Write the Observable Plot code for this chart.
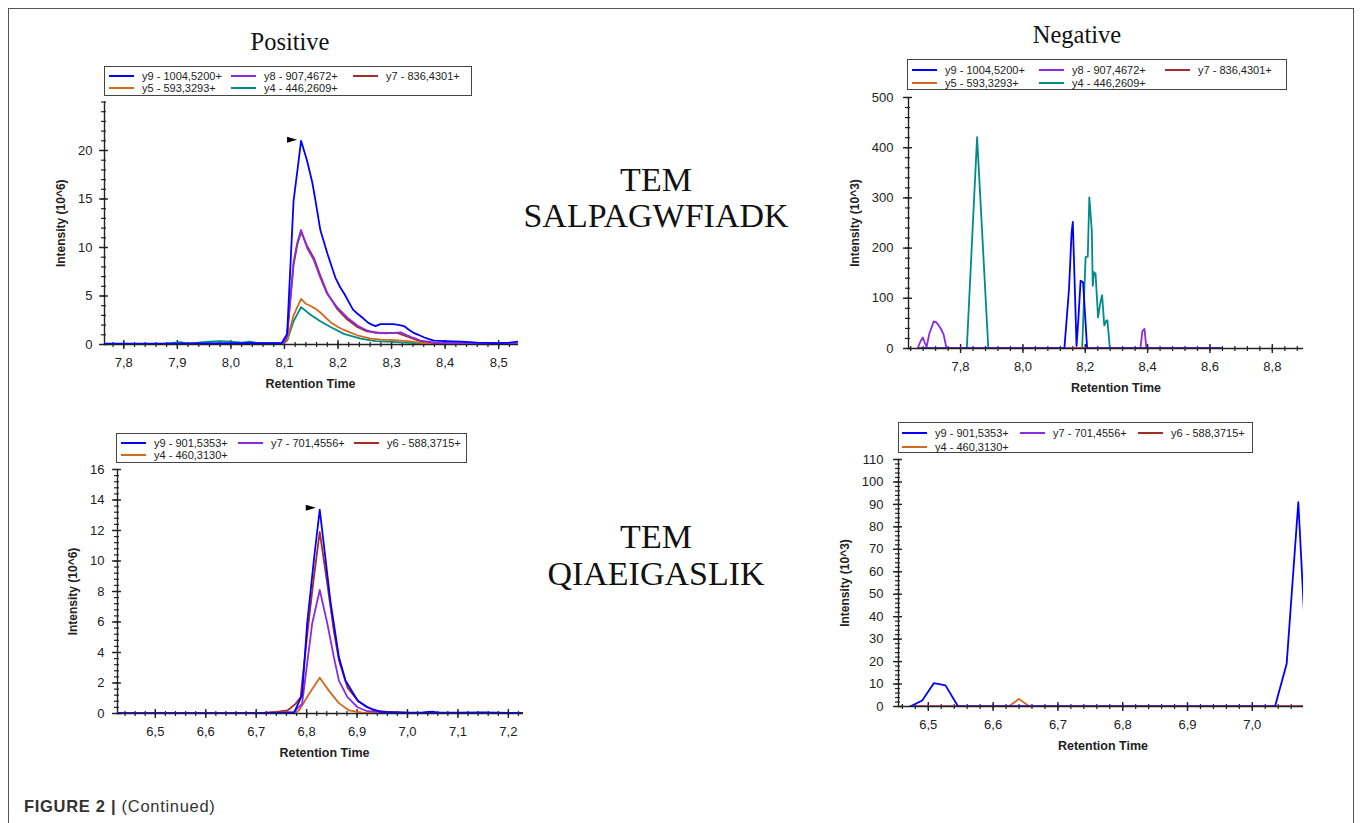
<!DOCTYPE html>
<html><head><meta charset="utf-8">
<script src="https://cdn.jsdelivr.net/npm/d3@7"></script>
<script src="https://cdn.jsdelivr.net/npm/@observablehq/plot@0.6"></script>
<style>
html,body{margin:0;padding:0;}
body{width:1362px;height:823px;overflow:hidden;background:#fff;font-family:"Liberation Sans",Arial,sans-serif;position:relative}
.frame{position:absolute;left:8px;top:8px;width:1346px;height:900px;border:1px solid #555;box-sizing:border-box}
.title{position:absolute;font-family:"Liberation Serif","Times New Roman",serif;color:#111;transform:translate(-50%,-50%);white-space:nowrap;text-align:center}
.legend{position:absolute;border:1px solid #444;background:#fff;box-sizing:border-box;z-index:5}
.li{position:absolute;font-size:11px;color:#222;white-space:nowrap;line-height:12px;transform:translateY(-50%)}
.sw{position:absolute;height:2px;transform:translateY(-50%)}
.panel{position:absolute}
.caption{position:absolute;left:24px;top:797px;font-size:16.5px;letter-spacing:0.7px;color:#333;white-space:nowrap}
</style></head><body>
<div class="frame"></div>
<div id="root"></div>
<div class="caption"><b>FIGURE 2 |</b> (Continued)</div>
<script>
// ---------------- DATA ----------------
// Panel 1: TEM SALPAGWFIADK, Positive (Intensity 10^6)
const P1_LABELS = ["y9 - 1004,5200+", "y8 - 907,4672+", "y7 - 836,4301+", "y5 - 593,3293+", "y4 - 446,2609+"];
const P1_COLORS = ["#0000ff", "#8a2be2", "#a52a2a", "#d2691e", "#008b8b"];
const P1_Y9 = [[7.764,0.1],[7.85,0.1],[7.95,0.12],[8.05,0.15],[8.095,0.15],[8.105,1.1],[8.117,14.8],[8.125,18.3],[8.131,21.0],[8.142,19.0],[8.152,16.7],[8.158,14.8],[8.167,11.8],[8.180,9.4],[8.195,6.9],[8.204,5.9],[8.212,5.2],[8.220,4.4],[8.228,3.6],[8.236,3.2],[8.248,2.65],[8.255,2.3],[8.261,2.1],[8.27,1.9],[8.279,2.1],[8.29,2.1],[8.304,2.1],[8.315,2.0],[8.323,1.9],[8.333,1.5],[8.341,1.2],[8.35,1.0],[8.36,0.75],[8.37,0.55],[8.379,0.4],[8.40,0.35],[8.43,0.3],[8.46,0.2],[8.50,0.15],[8.52,0.2],[8.537,0.3]];
const P1_Y8 = [[7.764,0.05],[7.9,0.05],[8.05,0.08],[8.098,0.1],[8.105,1.0],[8.117,8.5],[8.124,10.5],[8.131,11.8],[8.142,10.0],[8.155,8.7],[8.167,6.9],[8.180,5.2],[8.198,3.85],[8.217,2.8],[8.236,1.96],[8.254,1.45],[8.27,1.2],[8.29,1.15],[8.317,1.25],[8.329,0.95],[8.34,0.7],[8.354,0.41],[8.38,0.2],[8.42,0.15],[8.537,0.1]];
const P1_Y7 = [[7.764,0.05],[7.9,0.05],[8.05,0.08],[8.098,0.1],[8.105,0.9],[8.117,8.2],[8.124,10.3],[8.131,11.6],[8.142,10.2],[8.155,8.9],[8.167,7.1],[8.180,5.3],[8.198,3.7],[8.217,2.6],[8.236,1.8],[8.254,1.35],[8.28,1.2],[8.31,1.2],[8.33,0.8],[8.35,0.4],[8.38,0.15],[8.537,0.08]];
const P1_Y5 = [[7.764,0.05],[7.9,0.05],[8.098,0.05],[8.105,0.5],[8.117,3.0],[8.131,4.7],[8.14,4.2],[8.148,4.0],[8.16,3.6],[8.167,3.3],[8.186,2.3],[8.2,1.8],[8.211,1.5],[8.236,0.95],[8.261,0.6],[8.28,0.5],[8.304,0.45],[8.33,0.35],[8.36,0.15],[8.4,0.05],[8.537,0.05]];
const P1_Y4 = [[7.764,0.05],[7.88,0.1],[7.905,0.25],[7.92,0.1],[7.96,0.3],[7.98,0.35],[8.0,0.3],[8.02,0.2],[8.035,0.3],[8.05,0.15],[8.098,0.1],[8.105,0.4],[8.117,2.4],[8.131,3.85],[8.148,3.1],[8.167,2.4],[8.186,1.8],[8.211,1.1],[8.242,0.6],[8.27,0.35],[8.31,0.25],[8.35,0.1],[8.537,0.05]];
const P1_X_TICKS = [7.8, 7.9, 8.0, 8.1, 8.2, 8.3, 8.4, 8.5];
const P1_Y_TICKS = [0, 5, 10, 15, 20];

// Panel 2: TEM SALPAGWFIADK, Negative (Intensity 10^3)
const P2_LABELS = P1_LABELS;
const P2_COLORS = P1_COLORS;
const P2_Y9 = [[7.665,0],[8.133,0],[8.148,120],[8.156,230],[8.160,252],[8.166,130],[8.172,5],[8.178,60],[8.185,135],[8.193,132],[8.200,60],[8.206,0],[8.636,0]];
const P2_Y8 = [[7.662,0],[7.672,15],[7.679,22],[7.685,12],[7.691,3],[7.700,30],[7.714,54],[7.722,52],[7.730,46],[7.738,38],[7.746,27],[7.755,0],[8.377,0],[8.383,34],[8.390,39],[8.396,0],[8.636,0]];
const P2_Y7 = [[7.665,0],[8.636,0]];
const P2_Y5 = [[7.665,0],[8.636,0]];
const P2_Y4 = [[7.665,0],[7.820,0],[7.853,421],[7.889,0],[8.190,0],[8.201,182],[8.208,183],[8.213,301],[8.221,235],[8.224,125],[8.228,152],[8.233,149],[8.241,62],[8.248,90],[8.254,106],[8.261,46],[8.268,56],[8.271,56],[8.279,0],[8.636,0]];
const P2_X_TICKS = [7.8, 8.0, 8.2, 8.4, 8.6, 8.8];
const P2_Y_TICKS = [0, 100, 200, 300, 400, 500];

// Panel 3: TEM QIAEIGASLIK, Positive (Intensity 10^6)
const P3_LABELS = ["y9 - 901,5353+", "y7 - 701,4556+", "y6 - 588,3715+", "y4 - 460,3130+"];
const P3_COLORS = ["#0000ff", "#8a2be2", "#a52a2a", "#d2691e"];
const P3_Y9 = [[6.425,0.02],[6.6,0.02],[6.7,0.03],[6.775,0.05],[6.791,1.2],[6.801,5.9],[6.815,10.25],[6.826,13.36],[6.837,10.25],[6.847,7.4],[6.864,3.7],[6.877,2.16],[6.901,0.85],[6.920,0.41],[6.947,0.1],[6.98,0.08],[7.0,0.05],[7.03,0.08],[7.05,0.12],[7.06,0.05],[7.1,0.05],[7.15,0.07],[7.23,0.03]];
const P3_Y7 = [[6.425,0],[6.70,0.02],[6.775,0.1],[6.791,0.63],[6.811,5.9],[6.826,8.1],[6.841,5.9],[6.854,3.7],[6.864,2.16],[6.881,1.07],[6.901,0.41],[6.92,0.15],[6.96,0.05],[7.23,0.02]];
const P3_Y6 = [[6.425,0],[6.709,0.02],[6.74,0.1],[6.762,0.2],[6.778,0.63],[6.788,1.07],[6.805,6.3],[6.815,9.1],[6.826,11.9],[6.841,8.5],[6.854,5.4],[6.864,3.5],[6.881,1.7],[6.904,0.75],[6.933,0.2],[6.96,0.1],[7.0,0.05],[7.23,0.02]];
const P3_Y4 = [[6.425,0],[6.775,0.05],[6.785,0.2],[6.805,1.3],[6.826,2.34],[6.844,1.5],[6.864,0.68],[6.884,0.2],[6.91,0.05],[7.23,0.01]];
const P3_X_TICKS = [6.5, 6.6, 6.7, 6.8, 6.9, 7.0, 7.1, 7.2];
const P3_Y_TICKS = [0, 2, 4, 6, 8, 10, 12, 14, 16];

// Panel 4: TEM QIAEIGASLIK, Negative (Intensity 10^3)
const P4_LABELS = P3_LABELS;
const P4_COLORS = P3_COLORS;
const P4_Y9 = [[6.472,0],[6.4906,2.7],[6.5085,10.4],[6.5265,9.4],[6.546,0],[7.035,0],[7.053,19],[7.071,91],[7.080,40.5]];
const P4_Y7 = [[6.472,0],[7.08,0]];
const P4_Y6 = [[6.472,0],[7.08,0]];
const P4_Y4 = [[6.472,0],[6.624,0],[6.640,3.4],[6.656,0],[7.08,0]];
const P4_X_TICKS = [6.5, 6.6, 6.7, 6.8, 6.9, 7.0];
const P4_Y_TICKS = [0, 10, 20, 30, 40, 50, 60, 70, 80, 90, 100, 110];

const X_TITLE = "Retention Time";
const TITLES = ["Positive", "Negative"];
const PEPTIDES = [["TEM", "SALPAGWFIADK"], ["TEM", "QIAEIGASLIK"]];

// ---------------- RENDER ----------------
const fmtX = d => d.toFixed(1).replace(".", ",");
const INK = "#222";
const FONT = "'Liberation Sans', Arial, sans-serif";

function rows(labels, arrays, order) {
  const out = [];
  for (const i of order) for (const [t, v] of arrays[i]) out.push({s: labels[i], t, v});
  return out;
}
function minorTicks(domain, step) {
  const a = Math.ceil(domain[0] / step - 1e-9), b = Math.floor(domain[1] / step + 1e-9);
  return d3.range(a, b + 1).map(k => +(k * step).toFixed(4));
}
const peakMarker = {
  draw(ctx, size) {
    const r = Math.sqrt(size / Math.PI);
    ctx.moveTo(r * 1.25, 0); ctx.lineTo(-r * 1.25, -r * 0.75); ctx.lineTo(-r * 1.25, r * 0.75); ctx.closePath();
  }
};

function panel(cfg) {
  const data = rows(cfg.labels, cfg.series, cfg.order);
  const [mL, mR, mT, mB] = cfg.m;
  const fw = cfg.w - mL - mR, fh = cfg.h - mT - mB;
  const marks = [
    Plot.ruleX(minorTicks(cfg.x, cfg.xMinor), {x: d => d, insetTop: fh - 2, insetBottom: -3, stroke: INK, strokeWidth: 1.2}),
    Plot.ruleX(cfg.xTicks, {x: d => d, insetTop: fh - 4, insetBottom: -5, stroke: INK, strokeWidth: 1.4}),
    Plot.ruleY(minorTicks(cfg.y, cfg.yMinor), {y: d => d, insetLeft: -3, insetRight: fw - 2, stroke: INK, strokeWidth: 1.2}),
    Plot.ruleY(cfg.yTicks, {y: d => d, insetLeft: -5, insetRight: fw - 4, stroke: INK, strokeWidth: 1.4}),
    Plot.axisX(cfg.xTicks, {tickSize: 0, tickPadding: 13, tickFormat: fmtX, fontSize: 13, fontFamily: FONT, fill: INK, label: null}),
    Plot.axisY(cfg.yTicks, {tickSize: 0, tickPadding: cfg.yPad, tickFormat: d => String(d), fontSize: 13, fontFamily: FONT, fill: INK, label: null}),
    Plot.ruleX([cfg.x[0]], {stroke: INK, strokeWidth: 1.4}),
    Plot.ruleY([cfg.y[0]], {stroke: INK, strokeWidth: 1.4}),
    Plot.line(data, {x: "t", y: "v", z: "s", stroke: "s", strokeWidth: 1.8, clip: true}),
    Plot.text([X_TITLE], {frameAnchor: "bottom", text: d => d, dy: 39, dx: cfg.xTitleDx, fontSize: 12.5, fontWeight: "bold", fontFamily: FONT, fill: INK, lineAnchor: "middle"}),
    Plot.text([cfg.yTitle], {frameAnchor: "left", text: d => d, rotate: -90, dx: cfg.yTitleDx, fontSize: 12, fontWeight: "bold", fontFamily: FONT, fill: INK, lineAnchor: "middle", textAnchor: "middle"})
  ];
  if (cfg.marker) {
    const pk = d3.greatest(cfg.series[0], d => d[1]);
    marks.push(Plot.dot([pk], {x: d => d[0], y: d => d[1], symbol: peakMarker, r: 4, fill: "#000", stroke: "none", dx: -9, dy: cfg.markerDy}));
  }
  const plot = Plot.plot({
    width: cfg.w, height: cfg.h,
    marginLeft: mL, marginRight: mR, marginTop: mT, marginBottom: mB,
    x: {domain: cfg.x},
    y: {domain: cfg.y},
    color: {domain: cfg.labels, range: cfg.colors},
    style: {background: "transparent", overflow: "visible"},
    marks
  });
  const div = document.createElement("div");
  div.className = "panel";
  div.style.left = cfg.left + "px"; div.style.top = cfg.top + "px";
  div.style.width = cfg.w + "px"; div.style.height = cfg.h + "px";
  div.appendChild(plot);
  document.getElementById("root").appendChild(div);

  const L = cfg.legend;
  const box = document.createElement("div");
  box.className = "legend";
  Object.assign(box.style, {left: L.left + "px", top: L.top + "px", width: L.w + "px", height: L.h + "px"});
  cfg.labels.forEach((lab, i) => {
    const col = i % 3, row = Math.floor(i / 3);
    const sw = document.createElement("div");
    sw.className = "sw";
    Object.assign(sw.style, {left: L.cols[col] + "px", top: L.rows[row] + "px", width: "25px", background: cfg.colors[i]});
    const tx = document.createElement("div");
    tx.className = "li";
    Object.assign(tx.style, {left: (L.cols[col] + 33) + "px", top: L.rows[row] + "px"});
    tx.textContent = lab;
    box.appendChild(sw); box.appendChild(tx);
  });
  document.getElementById("root").appendChild(box);
}

panel({labels: P1_LABELS, colors: P1_COLORS, series: [P1_Y9, P1_Y8, P1_Y7, P1_Y5, P1_Y4], order: [4, 3, 2, 1, 0],
  x: [7.764, 8.537], y: [0, 25], xTicks: P1_X_TICKS, yTicks: P1_Y_TICKS, xMinor: 0.02, yMinor: 1, yPad: 12,
  left: 40, top: 90, w: 490, h: 310, m: [64, 12, 11.5, 56], yTitle: "Intensity (10^6)", yTitleDx: -43, xTitleDx: -1,
  marker: true, markerDy: -1,
  legend: {left: 104, top: 66, w: 368, h: 30, cols: [4, 126, 248], rows: [9, 21]}});

panel({labels: P2_LABELS, colors: P2_COLORS, series: [P2_Y9, P2_Y8, P2_Y7, P2_Y5, P2_Y4], order: [4, 3, 1, 2, 0],
  x: [7.633, 8.9], y: [0, 500], xTicks: P2_X_TICKS, yTicks: P2_Y_TICKS, xMinor: 0.04, yMinor: 20, yPad: 15,
  left: 840, top: 85, w: 480, h: 320, m: [68, 17, 12, 57], yTitle: "Intensity (10^3)", yTitleDx: -53, xTitleDx: 10,
  marker: false,
  legend: {left: 907, top: 59, w: 380, h: 31, cols: [4, 131, 257], rows: [10, 23]}});

panel({labels: P3_LABELS, colors: P3_COLORS, series: [P3_Y9, P3_Y7, P3_Y6, P3_Y4], order: [3, 1, 2, 0],
  x: [6.425, 7.23], y: [0, 16], xTicks: P3_X_TICKS, yTicks: P3_Y_TICKS, xMinor: 0.02, yMinor: 0.4, yPad: 13,
  left: 40, top: 455, w: 500, h: 320, m: [77, 17, 14, 62], yTitle: "Intensity (10^6)", yTitleDx: -44, xTitleDx: 4,
  marker: true, markerDy: -2,
  legend: {left: 116, top: 433, w: 351, h: 30, cols: [4, 121, 237], rows: [9, 21]}});

panel({labels: P4_LABELS, colors: P4_COLORS, series: [P4_Y9, P4_Y7, P4_Y6, P4_Y4], order: [3, 1, 2, 0],
  x: [6.454, 7.079], y: [0, 110], xTicks: P4_X_TICKS, yTicks: P4_Y_TICKS, xMinor: 0.02, yMinor: 2, yPad: 15,
  left: 830, top: 445, w: 490, h: 320, m: [68, 17, 14, 59], yTitle: "Intensity (10^3)", yTitleDx: -53, xTitleDx: 2,
  marker: false,
  legend: {left: 898, top: 422, w: 355, h: 31, cols: [3, 121, 239], rows: [10, 24]}});

function addTitle(text, x, y, size) {
  const d = document.createElement("div");
  d.className = "title";
  Object.assign(d.style, {left: x + "px", top: y + "px", fontSize: size + "px"});
  d.textContent = text;
  document.getElementById("root").appendChild(d);
}
addTitle(TITLES[0], 290, 42, 24.5);
addTitle(TITLES[1], 1077, 35, 24.5);
addTitle(PEPTIDES[0][0], 656, 180, 34);
addTitle(PEPTIDES[0][1], 656, 216, 34);
addTitle(PEPTIDES[1][0], 656, 537, 34);
addTitle(PEPTIDES[1][1], 656, 574, 34);
</script>
</body></html>
